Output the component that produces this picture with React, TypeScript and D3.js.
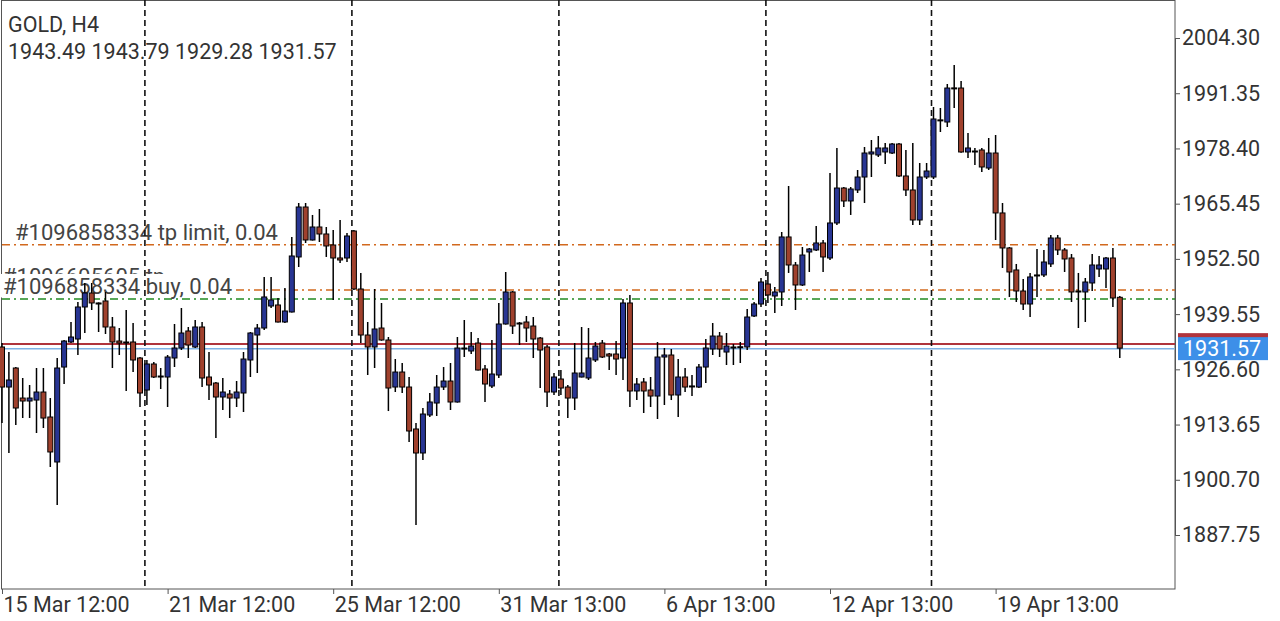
import React, { useRef, useEffect } from 'react';
import * as d3 from 'd3';

// GOLD H4 candles, bar 0 = 15 Mar 12:00
const opens = [
  1931.84, 1922.45, 1926.91, 1919.87, 1919.17, 1919.40, 1921.28, 1915.42, 1904.87, 1927.14,
  1933.01, 1933.71, 1941.22, 1944.50, 1942.16, 1942.63, 1936.53, 1933.24, 1933.01, 1933.01,
  1929.26, 1921.75, 1927.85, 1925.03, 1924.80, 1929.26, 1931.60, 1935.59, 1931.84, 1936.53,
  1924.80, 1923.39, 1920.11, 1920.81, 1919.87, 1921.05, 1928.79, 1934.65, 1936.29, 1941.45,
  1941.69, 1937.70, 1940.05, 1952.95, 1964.67, 1956.93, 1959.98, 1958.34, 1955.76, 1952.71,
  1952.71, 1959.04, 1945.44, 1934.65, 1931.84, 1936.29, 1933.48, 1922.45, 1925.97, 1922.45,
  1912.61, 1906.98, 1915.89, 1918.70, 1922.45, 1923.86, 1918.94, 1931.60, 1930.90, 1932.77,
  1926.68, 1922.69, 1925.27, 1937.23, 1944.74, 1937.46, 1937.70, 1936.76, 1933.94, 1931.84,
  1921.28, 1924.33, 1922.45, 1919.87, 1924.80, 1924.57, 1928.79, 1932.77, 1930.19, 1930.19,
  1929.26, 1942.16, 1921.52, 1923.63, 1921.75, 1920.34, 1929.49, 1929.96, 1920.58, 1924.80,
  1922.60, 1922.45, 1927.14, 1931.37, 1934.41, 1930.66, 1931.84, 1931.80, 1931.84, 1939.11,
  1941.92, 1946.61, 1943.80, 1944.74, 1957.64, 1951.07, 1946.38, 1954.12, 1954.59, 1956.23,
  1952.71, 1960.92, 1969.12, 1966.08, 1968.66, 1971.70, 1977.10, 1976.86, 1977.57, 1977.33,
  1979.44, 1971.94, 1968.66, 1961.62, 1971.70, 1971.70, 1985.10, 1984.60, 1992.60, 1992.57,
  1977.57, 1977.80, 1978.04, 1973.81, 1977.33, 1963.27, 1955.06, 1949.90, 1944.97, 1941.92,
  1948.73, 1948.73, 1951.31, 1957.40, 1954.59, 1952.71, 1944.97, 1944.74, 1946.85, 1950.13,
  1950.13, 1952.71, 1943.49,
];
const highs = [
  1932.77, 1930.66, 1927.14, 1924.57, 1922.92, 1926.91, 1926.91, 1919.87, 1929.26, 1933.48,
  1937.70, 1942.39, 1946.85, 1946.85, 1942.30, 1944.74, 1938.87, 1936.29, 1940.51, 1937.46,
  1929.49, 1928.79, 1928.32, 1926.91, 1929.96, 1937.23, 1940.98, 1936.53, 1938.17, 1937.70,
  1930.66, 1923.63, 1924.57, 1921.75, 1923.86, 1930.66, 1935.35, 1937.23, 1948.26, 1948.26,
  1943.33, 1945.68, 1957.64, 1965.61, 1965.61, 1962.80, 1964.20, 1959.98, 1959.28, 1961.62,
  1958.57, 1959.28, 1949.20, 1937.70, 1945.44, 1942.16, 1934.18, 1929.02, 1928.08, 1924.80,
  1914.01, 1917.53, 1921.05, 1925.27, 1927.14, 1928.08, 1934.18, 1938.17, 1935.35, 1933.94,
  1927.61, 1933.48, 1942.16, 1949.43, 1944.97, 1937.70, 1939.11, 1938.87, 1934.18, 1932.30,
  1925.74, 1926.44, 1922.92, 1932.77, 1936.53, 1936.29, 1933.01, 1933.48, 1930.43, 1933.24,
  1943.10, 1944.04, 1924.57, 1924.57, 1924.80, 1933.01, 1931.60, 1931.37, 1929.02, 1926.91,
  1925.27, 1927.85, 1933.71, 1937.46, 1935.35, 1935.12, 1932.54, 1933.01, 1940.75, 1942.39,
  1948.02, 1949.43, 1945.91, 1958.81, 1969.59, 1951.77, 1955.29, 1955.06, 1960.21, 1956.93,
  1972.64, 1978.51, 1969.36, 1969.36, 1973.35, 1978.74, 1980.38, 1981.32, 1979.68, 1979.68,
  1979.68, 1978.04, 1979.68, 1974.99, 1974.99, 1988.12, 1987.89, 1993.52, 1997.97, 1994.22,
  1982.02, 1978.51, 1978.51, 1980.85, 1981.55, 1965.61, 1955.29, 1951.31, 1947.79, 1949.20,
  1954.82, 1954.59, 1958.11, 1958.11, 1955.06, 1953.65, 1949.20, 1948.02, 1953.65, 1953.18,
  1952.95, 1955.06, 1943.79,
];
const lows = [
  1914.01, 1906.98, 1913.54, 1915.18, 1915.18, 1911.67, 1912.84, 1903.70, 1894.79, 1923.16,
  1932.77, 1929.96, 1935.12, 1940.51, 1935.35, 1934.88, 1926.91, 1929.96, 1921.52, 1925.97,
  1917.76, 1918.23, 1924.57, 1921.99, 1917.76, 1927.14, 1931.13, 1929.26, 1931.60, 1922.45,
  1919.40, 1910.50, 1917.06, 1915.18, 1917.76, 1916.59, 1924.80, 1925.74, 1935.82, 1940.98,
  1937.60, 1937.46, 1939.90, 1950.60, 1956.23, 1956.80, 1956.46, 1952.95, 1942.86, 1951.54,
  1951.77, 1945.21, 1932.77, 1925.27, 1926.91, 1933.30, 1916.82, 1921.28, 1921.05, 1909.56,
  1890.10, 1905.34, 1915.42, 1915.65, 1921.75, 1917.06, 1918.80, 1929.49, 1930.19, 1926.30,
  1918.94, 1922.22, 1924.57, 1937.10, 1934.88, 1932.30, 1933.01, 1929.26, 1922.22, 1917.76,
  1920.58, 1920.58, 1915.18, 1917.06, 1924.70, 1924.10, 1928.32, 1929.26, 1926.44, 1925.27,
  1924.10, 1917.76, 1919.40, 1916.36, 1917.76, 1914.95, 1918.23, 1919.40, 1915.42, 1921.28,
  1920.34, 1922.22, 1923.39, 1929.96, 1929.49, 1927.61, 1927.61, 1928.08, 1931.13, 1938.87,
  1941.22, 1942.16, 1939.81, 1941.45, 1949.20, 1940.51, 1946.15, 1949.43, 1954.35, 1949.43,
  1952.24, 1960.45, 1964.67, 1962.80, 1967.95, 1965.61, 1971.70, 1976.39, 1974.75, 1977.10,
  1971.70, 1967.25, 1960.45, 1960.45, 1971.23, 1971.23, 1982.26, 1983.43, 1987.89, 1977.40,
  1976.16, 1974.52, 1972.88, 1973.35, 1956.93, 1950.37, 1943.57, 1942.39, 1940.51, 1938.87,
  1943.57, 1948.26, 1950.60, 1953.41, 1949.43, 1942.39, 1936.29, 1937.70, 1944.97, 1948.26,
  1945.68, 1941.22, 1929.28,
];
const closes = [
  1922.45, 1924.10, 1917.53, 1919.17, 1919.87, 1921.28, 1915.18, 1907.22, 1926.91, 1933.24,
  1934.18, 1941.22, 1944.50, 1942.16, 1941.92, 1936.53, 1933.01, 1932.77, 1932.90, 1928.79,
  1921.05, 1927.85, 1924.80, 1924.80, 1929.49, 1931.60, 1935.12, 1932.30, 1936.53, 1924.57,
  1922.92, 1920.11, 1921.28, 1919.87, 1921.28, 1929.02, 1935.12, 1936.29, 1943.57, 1942.86,
  1937.70, 1940.28, 1953.18, 1964.67, 1956.93, 1959.98, 1958.34, 1955.53, 1952.71, 1952.24,
  1957.87, 1945.44, 1934.65, 1931.84, 1936.06, 1933.48, 1922.22, 1925.97, 1922.45, 1912.14,
  1906.98, 1916.12, 1918.94, 1922.45, 1923.86, 1918.94, 1931.60, 1931.37, 1932.07, 1926.44,
  1923.16, 1925.50, 1937.23, 1944.74, 1936.76, 1937.23, 1936.29, 1933.71, 1931.13, 1921.28,
  1924.80, 1922.22, 1919.87, 1925.74, 1925.74, 1929.26, 1932.07, 1929.49, 1929.72, 1929.02,
  1942.16, 1921.52, 1923.16, 1921.52, 1920.34, 1929.49, 1929.96, 1920.58, 1924.80, 1922.45,
  1922.70, 1927.14, 1931.60, 1934.41, 1931.37, 1932.07, 1931.60, 1931.90, 1938.87, 1941.92,
  1947.08, 1944.04, 1944.74, 1957.64, 1951.07, 1946.38, 1953.41, 1954.82, 1956.23, 1952.95,
  1960.92, 1969.12, 1966.08, 1968.89, 1971.70, 1977.33, 1977.57, 1978.51, 1978.51, 1979.44,
  1971.94, 1968.66, 1961.62, 1971.70, 1973.11, 1985.31, 1984.90, 1992.57, 1992.50, 1977.57,
  1978.51, 1977.70, 1974.05, 1977.33, 1963.27, 1955.06, 1949.43, 1944.97, 1941.92, 1948.26,
  1948.60, 1951.77, 1957.40, 1954.59, 1952.48, 1944.74, 1944.85, 1947.08, 1951.07, 1951.07,
  1952.71, 1943.33, 1931.57,
];

const priceTicks = [2004.30, 1991.35, 1978.40, 1965.45, 1952.50, 1939.55, 1926.60, 1913.65, 1900.70, 1887.75];
const timeTicks = [0, 24, 48, 72, 96, 120, 144];
const timeLabels = ['15 Mar 12:00', '21 Mar 12:00', '25 Mar 12:00', '31 Mar 13:00', '6 Apr 13:00', '12 Apr 13:00', '19 Apr 13:00'];
const weekStarts = [21, 51, 81, 111, 135];

const tpLimitPrice = 1955.8;
const otherTpPrice = 1945.2;
const buyPrice = 1943.1;
const askPrice = 1932.55;
const bidPrice = 1931.57;

const headerLines = ['GOLD, H4', '1943.49 1943.79 1929.28 1931.57'];
const tpLimitLabel = '#1096858334 tp limit, 0.04';
const otherTpLabel = '#1096695605 tp';
const buyLabel = '#1096858334 buy, 0.04';

const BULL = '#283593';
const BEAR = '#a0412d';
const FONT = 'Roboto, sans-serif';

export default function App() {
  const ref = useRef<SVGSVGElement | null>(null);

  useEffect(() => {
    const svg = d3.select(ref.current);
    svg.selectAll('*').remove();

    const W = 1280;
    const H = 621;
    const plotRight = 1175;
    const plotBottom = 589;

    const x = d3.scaleLinear().domain([0, 170]).range([2, plotRight]);
    const y = d3.scaleLinear().domain([1887.75, 2004.30]).range([535, 38]);

    svg.append('rect').attr('width', W).attr('height', H).attr('fill', '#fff');

    // frame
    svg.append('rect')
      .attr('x', 1.5).attr('y', 0.5)
      .attr('width', plotRight - 1.5).attr('height', plotBottom - 0.5)
      .attr('fill', 'none').attr('stroke', '#555').attr('stroke-width', 1);

    // order levels
    const level = (p: number, color: string) => svg.append('line')
      .attr('x1', 2).attr('x2', plotRight)
      .attr('y1', y(p)).attr('y2', y(p))
      .attr('stroke', color).attr('stroke-width', 1.5)
      .attr('stroke-dasharray', '8,4,2,4');
    level(tpLimitPrice, '#d2691e');
    level(otherTpPrice, '#d2691e');
    level(buyPrice, '#228b22');

    const label = (txt: string, lx: number, by: number) => svg.append('text')
      .attr('x', lx).attr('y', by)
      .attr('font-family', FONT).attr('font-size', 22).attr('fill', '#444')
      .text(txt);

    label(tpLimitLabel, 15, y(tpLimitPrice) - 5);
    label(otherTpLabel, 3, y(otherTpPrice) - 6.5);
    const buyText = label(buyLabel, 3, y(buyPrice) - 5);
    const bb = (buyText.node() as SVGTextElement).getBBox();
    svg.insert('rect', () => buyText.node())
      .attr('x', 0).attr('y', bb.y)
      .attr('width', bb.x + bb.width + 2).attr('height', y(buyPrice) - 1.5 - bb.y)
      .attr('fill', '#fff');

    // ask / bid lines
    svg.append('line')
      .attr('x1', 2).attr('x2', plotRight)
      .attr('y1', y(askPrice)).attr('y2', y(askPrice))
      .attr('stroke', '#b0343c').attr('stroke-width', 2);
    svg.append('line')
      .attr('x1', 2).attr('x2', plotRight)
      .attr('y1', y(bidPrice) + 0.5).attr('y2', y(bidPrice) + 0.5)
      .attr('stroke', '#7fb2e5').attr('stroke-width', 1.5);

    // week separators
    svg.append('g').selectAll('line').data(weekStarts).join('line')
      .attr('x1', d => x(d) - 2).attr('x2', d => x(d) - 2)
      .attr('y1', 0).attr('y2', plotBottom)
      .attr('stroke', '#111').attr('stroke-width', 1.6)
      .attr('stroke-dasharray', '6,4');

    // candles
    const idx = d3.range(closes.length);
    const bodyW = 5;
    const candles = svg.append('g').selectAll('g').data(idx).join('g');
    candles.append('line')
      .attr('x1', i => x(i)).attr('x2', i => x(i))
      .attr('y1', i => y(highs[i])).attr('y2', i => y(lows[i]))
      .attr('stroke', '#000').attr('stroke-width', 1.5);
    candles.append('rect')
      .attr('x', i => x(i) - bodyW / 2)
      .attr('y', i => y(Math.max(opens[i], closes[i])))
      .attr('width', bodyW)
      .attr('height', i => Math.max(1, Math.abs(y(opens[i]) - y(closes[i]))))
      .attr('fill', i => (closes[i] >= opens[i] ? BULL : BEAR))
      .attr('stroke', '#000').attr('stroke-width', 1);

    // right price axis
    const yAxis = svg.append('g')
      .attr('transform', `translate(${plotRight},0)`)
      .call(d3.axisRight(y).tickValues(priceTicks).tickSize(5).tickPadding(2).tickFormat(d3.format('.2f')));
    yAxis.select('.domain').attr('stroke', '#555');
    yAxis.selectAll('line').attr('stroke', '#555');
    yAxis.selectAll('text').attr('font-family', FONT).attr('font-size', 21.5).attr('fill', '#333');

    // bottom time axis
    const xAxis = svg.append('g')
      .attr('transform', `translate(0,${plotBottom})`)
      .call(d3.axisBottom(x).tickValues(timeTicks).tickSize(5).tickPadding(3)
        .tickFormat((d, k) => timeLabels[k]));
    xAxis.select('.domain').remove();
    xAxis.selectAll('line').attr('stroke', '#555');
    xAxis.selectAll('text')
      .attr('text-anchor', 'start').attr('dx', 1)
      .attr('font-family', FONT).attr('font-size', 21.5).attr('fill', '#333');

    // current price markers
    svg.append('rect')
      .attr('x', plotRight + 3).attr('y', y(bidPrice) - 15)
      .attr('width', 90).attr('height', 12)
      .attr('fill', '#b0343c');
    svg.append('rect')
      .attr('x', plotRight + 3).attr('y', y(bidPrice) - 11)
      .attr('width', 90).attr('height', 23)
      .attr('fill', '#3d8fe8');
    svg.append('text')
      .attr('x', plotRight + 8).attr('y', y(bidPrice) + 8)
      .attr('font-family', FONT).attr('font-size', 21.5).attr('fill', '#fff')
      .text(bidPrice.toFixed(2));

    // header
    headerLines.forEach((t, k) => {
      svg.append('text')
        .attr('x', 8).attr('y', 32 + k * 27)
        .attr('font-family', FONT).attr('font-size', 21.5).attr('fill', '#333')
        .text(t);
    });
  }, []);

  return <svg ref={ref} width={1280} height={621} style={{ position: 'absolute', left: 0, top: 0 }} />;
}
